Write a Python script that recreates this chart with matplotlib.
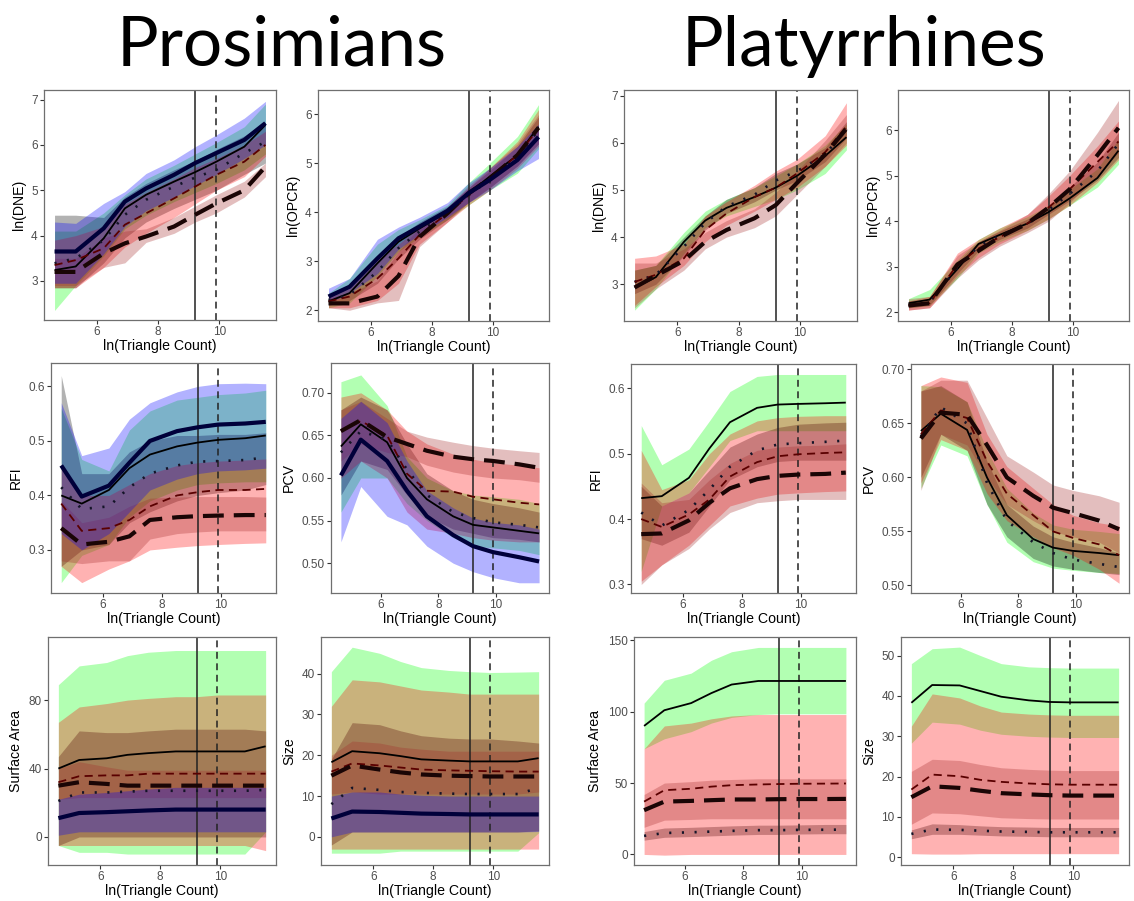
import numpy as np
import matplotlib
matplotlib.use("Agg")
import matplotlib.pyplot as plt
from matplotlib.ticker import FormatStrFormatter

plt.rcParams['font.family'] = ['Liberation Sans', 'DejaVu Sans']

W, H = 1134, 901

# mesh resolutions (triangle counts) shared by every panel
tri_counts = [100, 200, 500, 1000, 2000, 5000, 10000, 20000, 50000, 100000]
cut_solid = 10000
cut_dashed = 20000

# series order: solid, dotted, dashed, longdash, thick (prosimians only)

# ---------------- Prosimians ----------------
pro_dne_mean = [
    [3.24, 3.32, 3.94, 4.60, 4.90, 5.19, 5.40, 5.63, 5.96, 6.44],
    [3.39, 3.50, 3.90, 4.46, 4.79, 5.08, 5.28, 5.45, 5.82, 6.07],
    [3.35, 3.46, 3.72, 4.24, 4.49, 4.82, 5.08, 5.34, 5.63, 6.00],
    [3.20, 3.20, 3.61, 3.83, 3.98, 4.20, 4.46, 4.71, 5.00, 5.52],
    [3.65, 3.65, 4.16, 4.75, 5.04, 5.34, 5.60, 5.82, 6.11, 6.48],
]
pro_dne_lo = [
    [2.35, 2.90, 3.55, 4.15, 4.45, 4.75, 4.95, 5.15, 5.45, 5.80],
    [2.85, 2.85, 3.40, 3.95, 4.30, 4.60, 4.80, 5.00, 5.35, 5.60],
    [2.85, 2.85, 3.30, 3.75, 4.05, 4.40, 4.70, 5.00, 5.30, 5.75],
    [2.90, 2.90, 3.30, 3.40, 3.85, 4.05, 4.30, 4.50, 4.85, 5.30],
    [2.95, 2.95, 3.60, 4.20, 4.55, 4.85, 5.10, 5.35, 5.70, 6.00],
]
pro_dne_hi = [
    [4.10, 4.10, 4.50, 4.90, 5.25, 5.55, 5.80, 6.05, 6.40, 6.90],
    [4.45, 4.45, 4.40, 4.85, 5.15, 5.45, 5.65, 5.90, 6.20, 6.50],
    [3.90, 4.00, 4.20, 4.70, 4.95, 5.25, 5.50, 5.70, 6.00, 6.30],
    [3.50, 3.50, 3.95, 4.10, 4.15, 4.40, 4.65, 4.90, 5.20, 5.60],
    [4.30, 4.27, 4.71, 4.97, 5.37, 5.67, 5.96, 6.22, 6.59, 6.96],
]

pro_opcr_mean = [
    [2.18, 2.35, 2.96, 3.40, 3.67, 4.01, 4.39, 4.73, 5.17, 5.75],
    [2.21, 2.31, 2.79, 3.27, 3.61, 3.98, 4.35, 4.66, 5.14, 5.68],
    [2.18, 2.28, 2.65, 3.06, 3.54, 3.98, 4.35, 4.69, 5.17, 5.71],
    [2.14, 2.14, 2.28, 2.70, 3.50, 3.98, 4.39, 4.69, 5.17, 5.73],
    [2.28, 2.48, 3.06, 3.47, 3.71, 4.03, 4.39, 4.66, 5.07, 5.54],
]
pro_opcr_lo = [
    [2.05, 2.15, 2.70, 3.20, 3.50, 3.85, 4.15, 4.45, 4.80, 5.30],
    [2.10, 2.20, 2.55, 3.05, 3.45, 3.85, 4.20, 4.50, 4.95, 5.40],
    [2.05, 2.05, 2.20, 2.55, 3.35, 3.80, 4.15, 4.45, 4.90, 5.35],
    [2.05, 2.00, 2.15, 2.20, 3.30, 3.80, 4.20, 4.50, 4.95, 5.40],
    [2.15, 2.35, 2.75, 3.25, 3.55, 3.90, 4.20, 4.45, 4.85, 5.10],
]
pro_opcr_hi = [
    [2.35, 2.65, 3.35, 3.65, 3.85, 4.15, 4.60, 5.00, 5.55, 6.20],
    [2.30, 2.45, 3.05, 3.50, 3.80, 4.12, 4.50, 4.85, 5.35, 5.95],
    [2.30, 2.50, 3.05, 3.35, 3.70, 4.10, 4.50, 4.90, 5.45, 6.10],
    [2.25, 2.35, 2.60, 3.20, 3.70, 4.10, 4.55, 4.90, 5.40, 6.00],
    [2.45, 2.65, 3.45, 3.70, 3.90, 4.20, 4.60, 4.90, 5.35, 5.80],
]

pro_rfi_mean = [
    [0.400, 0.385, 0.410, 0.450, 0.475, 0.490, 0.497, 0.502, 0.505, 0.510],
    [0.415, 0.375, 0.380, 0.415, 0.440, 0.455, 0.462, 0.463, 0.465, 0.470],
    [0.385, 0.335, 0.340, 0.355, 0.380, 0.400, 0.406, 0.410, 0.410, 0.412],
    [0.340, 0.310, 0.315, 0.325, 0.355, 0.360, 0.362, 0.363, 0.364, 0.364],
    [0.455, 0.398, 0.418, 0.460, 0.500, 0.518, 0.525, 0.530, 0.532, 0.535],
]
pro_rfi_lo = [
    [0.240, 0.290, 0.310, 0.360, 0.390, 0.410, 0.420, 0.423, 0.425, 0.425],
    [0.270, 0.300, 0.310, 0.350, 0.370, 0.390, 0.400, 0.405, 0.410, 0.420],
    [0.270, 0.240, 0.265, 0.280, 0.300, 0.305, 0.308, 0.310, 0.312, 0.313],
    [0.280, 0.275, 0.280, 0.280, 0.320, 0.330, 0.333, 0.335, 0.335, 0.335],
    [0.330, 0.300, 0.330, 0.370, 0.410, 0.430, 0.440, 0.445, 0.447, 0.450],
]
pro_rfi_hi = [
    [0.560, 0.466, 0.445, 0.520, 0.555, 0.575, 0.580, 0.585, 0.588, 0.593],
    [0.620, 0.440, 0.440, 0.480, 0.500, 0.510, 0.510, 0.512, 0.512, 0.515],
    [0.450, 0.400, 0.400, 0.420, 0.440, 0.455, 0.460, 0.463, 0.465, 0.467],
    [0.390, 0.350, 0.360, 0.380, 0.395, 0.397, 0.398, 0.398, 0.398, 0.397],
    [0.570, 0.473, 0.487, 0.540, 0.570, 0.590, 0.600, 0.605, 0.606, 0.605],
]

pro_pcv_mean = [
    [0.637, 0.663, 0.642, 0.600, 0.575, 0.555, 0.545, 0.542, 0.538, 0.535],
    [0.630, 0.655, 0.645, 0.610, 0.580, 0.560, 0.553, 0.548, 0.545, 0.542],
    [0.655, 0.667, 0.650, 0.605, 0.585, 0.584, 0.578, 0.575, 0.571, 0.569],
    [0.655, 0.668, 0.648, 0.640, 0.632, 0.625, 0.622, 0.620, 0.616, 0.612],
    [0.603, 0.645, 0.620, 0.585, 0.555, 0.533, 0.520, 0.513, 0.507, 0.502],
]
pro_pcv_lo = [
    [0.560, 0.600, 0.600, 0.570, 0.550, 0.530, 0.520, 0.518, 0.515, 0.510],
    [0.580, 0.620, 0.610, 0.580, 0.555, 0.540, 0.535, 0.530, 0.528, 0.525],
    [0.600, 0.620, 0.600, 0.560, 0.540, 0.535, 0.530, 0.527, 0.525, 0.525],
    [0.620, 0.640, 0.630, 0.625, 0.615, 0.607, 0.603, 0.600, 0.598, 0.595],
    [0.525, 0.590, 0.555, 0.545, 0.520, 0.500, 0.490, 0.483, 0.477, 0.477],
]
pro_pcv_hi = [
    [0.713, 0.721, 0.685, 0.625, 0.600, 0.585, 0.580, 0.578, 0.575, 0.570],
    [0.680, 0.695, 0.680, 0.640, 0.605, 0.585, 0.575, 0.570, 0.565, 0.560],
    [0.695, 0.700, 0.680, 0.655, 0.640, 0.628, 0.622, 0.618, 0.615, 0.612],
    [0.680, 0.690, 0.670, 0.655, 0.648, 0.642, 0.638, 0.635, 0.632, 0.630],
    [0.670, 0.690, 0.665, 0.620, 0.585, 0.565, 0.553, 0.548, 0.545, 0.540],
]

pro_sa_mean = [
    [40, 45, 46, 48, 49, 50, 50, 50, 50, 53],
    [21, 26, 26, 26.5, 27, 27, 27, 27, 27, 27.5],
    [32, 35.5, 36, 36, 37, 37, 37, 37, 37, 37],
    [30, 32, 31, 30, 30, 30, 30, 30, 30, 30],
    [11, 14, 14.5, 15, 15.5, 16, 16, 16, 16, 16],
]
pro_sa_lo = [
    [-5, -9, -9, -10, -10, -10, -10, -10, -10, 3],
    [-5, 0, 0, 0, 0, 0, 0, 0, 0, 0],
    [-5, -5, -5, -5, -5, -5, -5, -5, -5, -8],
    [22, 23, 23, 23, 23, 23, 23, 23, 23, 23],
    [1, 3, 3, 3, 3, 3, 3, 3, 3, 3],
]
pro_sa_hi = [
    [89, 100, 102, 106, 108, 109, 109, 109, 109, 109],
    [47, 62, 61, 61, 62, 63, 63, 63, 63, 62],
    [67, 76, 78, 80, 81, 82, 82, 83, 83, 83],
    [40, 44, 41, 39, 39, 39, 39, 39, 39, 39],
    [22, 25, 26, 27, 28, 29, 29, 29, 29, 29],
]

pro_size_mean = [
    [18.3, 21.0, 20.5, 19.8, 19.0, 18.7, 18.5, 18.5, 18.5, 19.3],
    [8.0, 12.0, 11.5, 11.0, 10.8, 10.6, 10.5, 10.5, 10.5, 12.0],
    [16.0, 18.0, 17.5, 17.0, 16.5, 16.3, 16.2, 16.1, 16.0, 16.0],
    [15.0, 17.5, 16.5, 15.8, 15.3, 15.0, 14.9, 14.8, 14.8, 14.8],
    [4.5, 6.2, 6.1, 5.9, 5.7, 5.6, 5.5, 5.5, 5.5, 5.5],
]
pro_size_lo = [
    [-4, -4, -4, -3.5, -3.5, -3.5, -3.5, -3.5, -3.5, 1],
    [-2, 1.2, 1.2, 1.2, 1.2, 1.2, 1.2, 1.2, 1.2, 1.5],
    [-3, -3, -3, -3, -3, -3, -3, -3, -3, -3],
    [10.5, 11, 10.5, 10.5, 10.5, 10.5, 10.5, 10.5, 10.5, 11],
    [0, 1.2, 1.2, 1.2, 1.2, 1.2, 1.2, 1.2, 1.2, 1.3],
]
pro_size_hi = [
    [40.5, 46.5, 45, 43, 41.5, 40.8, 40.5, 40.3, 40.4, 40.5],
    [19, 28, 27.5, 26, 24.8, 24.2, 24, 24, 23.5, 23],
    [32, 38.5, 38, 37, 36, 35.5, 35, 35, 35, 35],
    [20, 23.5, 23, 22, 21.5, 21, 21, 21, 21, 21],
    [10, 11, 11, 10.5, 10.2, 10, 10, 10, 10, 10],
]

# ---------------- Platyrrhines ----------------
plat_dne_mean = [
    [2.93, 3.15, 3.90, 4.35, 4.62, 4.85, 5.05, 5.30, 5.72, 6.12],
    [3.05, 3.20, 3.80, 4.30, 4.65, 4.90, 5.20, 5.40, 5.75, 6.30],
    [3.05, 3.20, 3.55, 4.15, 4.50, 4.85, 5.05, 5.35, 5.80, 6.35],
    [2.93, 3.18, 3.50, 3.90, 4.15, 4.40, 4.68, 5.15, 5.75, 6.30],
]
plat_dne_lo = [
    [2.45, 2.90, 3.65, 4.20, 4.45, 4.65, 4.80, 5.00, 5.35, 5.85],
    [2.80, 3.00, 3.60, 4.15, 4.50, 4.75, 5.00, 5.20, 5.60, 6.10],
    [2.55, 2.95, 3.40, 3.90, 4.25, 4.55, 4.80, 5.05, 5.50, 5.95],
    [2.50, 2.90, 3.30, 3.75, 4.00, 4.20, 4.45, 4.90, 5.50, 6.00],
]
plat_dne_hi = [
    [3.30, 3.40, 4.10, 4.55, 4.80, 5.05, 5.30, 5.55, 5.95, 6.40],
    [3.30, 3.40, 4.00, 4.45, 4.80, 5.05, 5.35, 5.55, 5.90, 6.45],
    [3.55, 3.60, 3.85, 4.45, 4.75, 5.10, 5.40, 5.65, 6.15, 6.85],
    [3.45, 3.45, 3.75, 4.10, 4.35, 4.60, 4.95, 5.40, 6.05, 6.60],
]

plat_opcr_mean = [
    [2.20, 2.28, 2.95, 3.50, 3.70, 3.95, 4.20, 4.50, 4.95, 5.55],
    [2.15, 2.22, 2.98, 3.45, 3.68, 3.95, 4.25, 4.60, 5.10, 5.70],
    [2.15, 2.20, 3.05, 3.40, 3.65, 3.95, 4.30, 4.70, 5.30, 5.75],
    [2.15, 2.20, 3.05, 3.35, 3.65, 3.95, 4.30, 4.70, 5.45, 6.05],
]
plat_opcr_lo = [
    [2.10, 2.15, 2.75, 3.30, 3.55, 3.80, 4.05, 4.35, 4.75, 5.25],
    [2.10, 2.15, 2.85, 3.35, 3.60, 3.85, 4.15, 4.45, 4.90, 5.40],
    [2.05, 2.10, 2.80, 3.20, 3.50, 3.80, 4.05, 4.35, 4.85, 5.35],
    [2.05, 2.10, 2.75, 3.15, 3.45, 3.75, 4.00, 4.40, 5.00, 5.50],
]
plat_opcr_hi = [
    [2.30, 2.50, 3.15, 3.60, 3.85, 4.10, 4.35, 4.70, 5.15, 5.80],
    [2.25, 2.30, 3.10, 3.55, 3.78, 4.05, 4.35, 4.75, 5.30, 5.95],
    [2.25, 2.35, 3.30, 3.60, 3.85, 4.15, 4.55, 5.00, 5.65, 6.20],
    [2.30, 2.35, 3.25, 3.55, 3.80, 4.15, 4.60, 5.10, 5.95, 6.65],
]

plat_rfi_mean = [
    [0.432, 0.435, 0.463, 0.508, 0.548, 0.570, 0.575, 0.576, 0.577, 0.578],
    [0.410, 0.390, 0.414, 0.445, 0.480, 0.505, 0.514, 0.516, 0.518, 0.520],
    [0.400, 0.388, 0.407, 0.430, 0.465, 0.487, 0.496, 0.499, 0.501, 0.502],
    [0.377, 0.378, 0.398, 0.425, 0.447, 0.461, 0.466, 0.468, 0.469, 0.471],
]
plat_rfi_lo = [
    [0.320, 0.420, 0.440, 0.480, 0.520, 0.535, 0.535, 0.535, 0.535, 0.535],
    [0.370, 0.360, 0.380, 0.420, 0.460, 0.480, 0.488, 0.490, 0.490, 0.490],
    [0.305, 0.330, 0.360, 0.390, 0.420, 0.432, 0.438, 0.440, 0.442, 0.443],
    [0.300, 0.330, 0.355, 0.385, 0.410, 0.425, 0.428, 0.430, 0.430, 0.430],
]
plat_rfi_hi = [
    [0.543, 0.483, 0.507, 0.550, 0.595, 0.618, 0.621, 0.621, 0.621, 0.621],
    [0.450, 0.420, 0.440, 0.475, 0.510, 0.530, 0.540, 0.545, 0.547, 0.548],
    [0.505, 0.445, 0.460, 0.500, 0.530, 0.550, 0.555, 0.557, 0.558, 0.558],
    [0.455, 0.425, 0.430, 0.460, 0.485, 0.505, 0.510, 0.512, 0.513, 0.515],
]

plat_pcv_mean = [
    [0.643, 0.659, 0.644, 0.600, 0.565, 0.543, 0.535, 0.532, 0.530, 0.528],
    [0.638, 0.665, 0.650, 0.595, 0.560, 0.540, 0.530, 0.524, 0.520, 0.517],
    [0.640, 0.662, 0.655, 0.615, 0.585, 0.565, 0.550, 0.544, 0.538, 0.528],
    [0.636, 0.660, 0.658, 0.630, 0.600, 0.583, 0.572, 0.567, 0.560, 0.552],
]
plat_pcv_lo = [
    [0.590, 0.630, 0.620, 0.575, 0.540, 0.522, 0.516, 0.514, 0.512, 0.511],
    [0.600, 0.640, 0.625, 0.575, 0.545, 0.525, 0.518, 0.515, 0.512, 0.510],
    [0.595, 0.635, 0.625, 0.585, 0.560, 0.545, 0.535, 0.528, 0.515, 0.502],
    [0.588, 0.640, 0.630, 0.600, 0.575, 0.560, 0.550, 0.545, 0.540, 0.530],
]
plat_pcv_hi = [
    [0.685, 0.684, 0.670, 0.625, 0.590, 0.567, 0.556, 0.552, 0.550, 0.548],
    [0.680, 0.685, 0.670, 0.615, 0.575, 0.555, 0.545, 0.540, 0.535, 0.530],
    [0.685, 0.693, 0.688, 0.640, 0.610, 0.590, 0.575, 0.565, 0.558, 0.555],
    [0.680, 0.690, 0.690, 0.655, 0.620, 0.605, 0.593, 0.588, 0.583, 0.577],
]

plat_sa_mean = [
    [90, 101, 106, 113, 119, 121.5, 121.5, 121.5, 121.5, 121.5],
    [13, 15, 15.5, 16, 16.5, 17, 17, 17.2, 17.3, 17.4],
    [37, 45, 46, 47.5, 48.5, 49, 49.3, 49.5, 49.6, 49.7],
    [31, 37, 37.5, 38, 38.5, 38.5, 38.7, 38.8, 38.8, 38.9],
]
plat_sa_lo = [
    [74, 81, 86, 92, 96, 98, 98.5, 98.5, 98.5, 98.5],
    [10, 12, 12.5, 13, 13.5, 14, 14, 14.3, 14.5, 14.5],
    [0, -0.5, 0, 0, 0, 0, 0, 0, 0, 0],
    [19, 24, 24.5, 25, 25, 25, 25, 25, 25, 25],
]
plat_sa_hi = [
    [106, 122, 127, 136, 142, 145, 145, 145, 145, 145],
    [16, 18.5, 19, 19.5, 20, 20.5, 20.5, 20.7, 21, 21],
    [74, 90, 92, 95, 97, 98, 98, 98, 98, 98],
    [42, 50, 51, 52, 52.5, 53, 53, 53, 53, 53],
]

plat_size_mean = [
    [38.3, 42.7, 42.6, 41.2, 39.8, 38.9, 38.5, 38.4, 38.4, 38.4],
    [5.8, 6.9, 6.8, 6.6, 6.4, 6.3, 6.2, 6.2, 6.2, 6.2],
    [16.8, 20.5, 20.1, 19.2, 18.7, 18.3, 18.1, 18.0, 18.0, 18.0],
    [14.9, 17.6, 17.2, 16.5, 15.9, 15.6, 15.4, 15.3, 15.3, 15.3],
]
plat_size_lo = [
    [28.3, 33.5, 33, 31.5, 30.5, 30, 29.8, 29.7, 29.7, 29.7],
    [4.6, 5.7, 5.7, 5.5, 5.3, 5.2, 5.1, 5.1, 5.1, 5.1],
    [0.9, 0.8, 0.8, 0.9, 0.9, 0.9, 0.9, 0.9, 0.9, 0.9],
    [8.2, 11, 10.8, 10.3, 9.8, 9.6, 9.5, 9.5, 9.5, 9.5],
]
plat_size_hi = [
    [48, 51.7, 52.1, 50, 48, 47.2, 47, 46.9, 46.9, 46.9],
    [6.8, 8.3, 8.1, 7.8, 7.6, 7.5, 7.4, 7.4, 7.4, 7.4],
    [32.5, 40.5, 39.5, 37.5, 36, 35.5, 35.3, 35.2, 35.2, 35.2],
    [21.3, 24.3, 24, 23, 22.2, 21.8, 21.6, 21.5, 21.5, 21.5],
]

# ---------------- styles ----------------
# (line color, linewidth, linestyle, ribbon color)
STYLES = [
    ('black', 1.3, '-', '#00ff00'),
    ('#141428', 1.9, (0, (0.8, 4.0)), '#000000'),
    ('#5a0000', 1.3, (0, (4.5, 3.0)), '#ff0000'),
    ('#1a0505', 3.0, (0, (5.0, 2.4)), '#a52a2a'),
    ('#00003a', 3.0, '-', '#0000ff'),
]
RIBBON_ALPHA = 0.3


def px_axes(fig, left, top, right, bottom):
    return fig.add_axes([left / W, 1 - bottom / H, (right - left) / W, (bottom - top) / H])


def draw_panel(ax, means, los, his, ylabel, ylim, yticks, fmt):
    x = np.log(tri_counts)
    for i in range(len(means)):
        ax.fill_between(x, los[i], his[i], color=STYLES[i][3],
                        alpha=RIBBON_ALPHA, linewidth=0, zorder=1)
    ax.axvline(np.log(cut_solid), color='#222222', lw=1.1, zorder=2)
    ax.axvline(np.log(cut_dashed), color='#222222', lw=1.1,
               ls=(0, (4.5, 3)), zorder=2)
    for i in range(len(means)):
        color, lw, ls, _ = STYLES[i]
        ax.plot(x, means[i], color=color, lw=lw, ls=ls, zorder=3,
                solid_capstyle='butt', dash_capstyle='butt')
    r = x.max() - x.min()
    ax.set_xlim(x.min() - 0.05 * r, x.max() + 0.05 * r)
    ax.set_ylim(*ylim)
    ax.set_xticks([6, 8, 10])
    ax.set_yticks(yticks)
    if fmt:
        ax.yaxis.set_major_formatter(FormatStrFormatter(fmt))
    ax.set_xlabel('ln(Triangle Count)', fontsize=10.2, labelpad=0.5)
    ax.set_ylabel(ylabel, fontsize=10.2, labelpad=4)
    ax.tick_params(length=3, width=0.8, color='#333333', labelcolor='#4d4d4d',
                   labelsize=8.5, pad=1.5)
    for sp in ax.spines.values():
        sp.set_color('#6f6f6f')
        sp.set_linewidth(0.9)


fig = plt.figure(figsize=(W / 100, H / 100), dpi=100)

panels = [
    # (box px, mean, lo, hi, ylabel, ylim, yticks, fmt)
    ((44, 90, 276, 320), pro_dne_mean, pro_dne_lo, pro_dne_hi, 'ln(DNE)',
     (2.14, 7.21), [3, 4, 5, 6, 7], None),
    ((318, 90, 549, 321), pro_opcr_mean, pro_opcr_lo, pro_opcr_hi, 'ln(OPCR)',
     (1.78, 6.5), [2, 3, 4, 5, 6], None),
    ((624, 90, 857, 321), plat_dne_mean, plat_dne_lo, plat_dne_hi, 'ln(DNE)',
     (2.22, 7.12), [3, 4, 5, 6, 7], None),
    ((898, 90, 1129, 321), plat_opcr_mean, plat_opcr_lo, plat_opcr_hi, 'ln(OPCR)',
     (1.81, 6.88), [2, 3, 4, 5, 6], None),
    ((51, 363, 276, 593), pro_rfi_mean, pro_rfi_lo, pro_rfi_hi, 'RFI',
     (0.221, 0.643), [0.3, 0.4, 0.5, 0.6], '%.1f'),
    ((331, 363, 549, 593), pro_pcv_mean, pro_pcv_lo, pro_pcv_hi, 'PCV',
     (0.465, 0.735), [0.50, 0.55, 0.60, 0.65, 0.70], '%.2f'),
    ((631, 364, 856, 593), plat_rfi_mean, plat_rfi_lo, plat_rfi_hi, 'RFI',
     (0.287, 0.637), [0.3, 0.4, 0.5, 0.6], '%.1f'),
    ((911, 364, 1129, 593), plat_pcv_mean, plat_pcv_lo, plat_pcv_hi, 'PCV',
     (0.493, 0.705), [0.50, 0.55, 0.60, 0.65, 0.70], '%.2f'),
    ((48, 637, 276, 865), pro_sa_mean, pro_sa_lo, pro_sa_hi, 'Surface Area',
     (-16.4, 116.9), [0, 40, 80], None),
    ((321, 637, 549, 865), pro_size_mean, pro_size_lo, pro_size_hi, 'Size',
     (-6.9, 49.0), [0, 10, 20, 30, 40], None),
    ((634, 637, 856, 865), plat_sa_mean, plat_sa_lo, plat_sa_hi, 'Surface Area',
     (-7.4, 152.3), [0, 50, 100, 150], None),
    ((901, 637, 1129, 865), plat_size_mean, plat_size_lo, plat_size_hi, 'Size',
     (-1.9, 54.6), [0, 10, 20, 30, 40, 50], None),
]

for box, m, lo, hi, ylab, ylim, yt, fmt in panels:
    ax = px_axes(fig, *box)
    draw_panel(ax, m, lo, hi, ylab, ylim, yt, fmt)

fig.text(282 / W, 1 - 66 / H, 'Prosimians', fontsize=50, family=['Lato', 'DejaVu Sans'],
         ha='center', va='baseline')
fig.text(864 / W, 1 - 66 / H, 'Platyrrhines', fontsize=50, family=['Lato', 'DejaVu Sans'],
         ha='center', va='baseline')

fig.savefig('out.png', dpi=100)
